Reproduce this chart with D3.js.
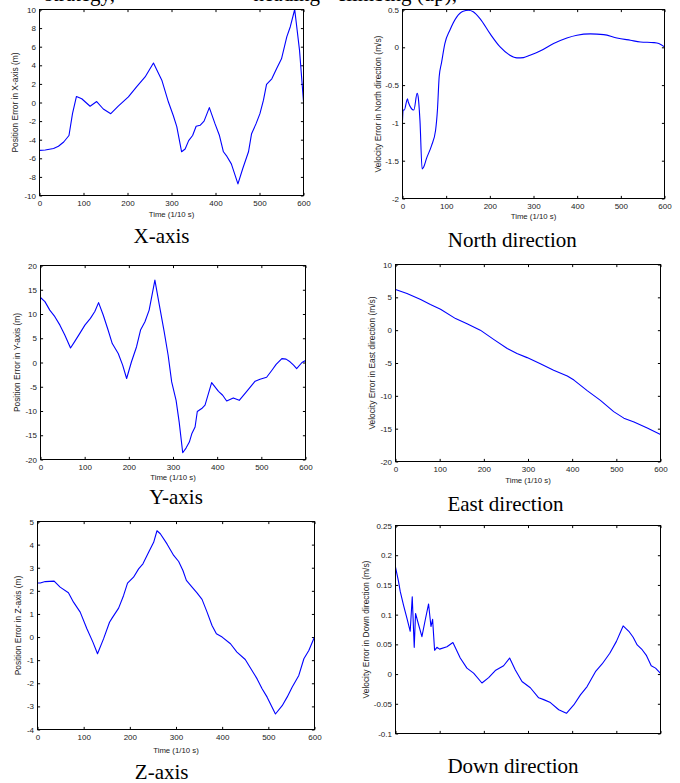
<!DOCTYPE html>
<html><head><meta charset="utf-8">
<script src="https://cdn.jsdelivr.net/npm/d3@7"></script>
<style>body{margin:0;background:#fff}svg{display:block}</style>
</head><body><svg id="c" width="680" height="783"></svg>
<script>
// ---------- data ----------
const timeTicks = [0,100,200,300,400,500,600];

const xTime = [0,13,32,43,55,67,75,84,96,115,130,145,162,179,202,221,240,259,278,293,304,312,323,331,339,348,356,365,374,386,399,409,418,426,436,451,462,475,482,492,501,509,516,528,539,550,562,570,580,591,600];
const xErr  = [-5.15,-5.1,-4.95,-4.7,-4.25,-3.55,-1.2,0.65,0.4,-0.4,0.1,-0.7,-1.2,-0.4,0.6,1.7,2.75,4.25,2.4,0.05,-1.4,-2.6,-5.3,-5.0,-4.1,-3.55,-2.55,-2.45,-2.0,-0.55,-2.3,-3.55,-5.3,-5.8,-6.6,-8.75,-7.1,-5.3,-3.35,-2.3,-1.2,0.25,1.95,2.55,3.65,4.7,7.05,8.15,10.0,5.6,0.1];
const xTicks = [-10,-8,-6,-4,-2,0,2,4,6,8,10];

const nTime = [0,1.5,4,11.5,13,26,33.5,36,40,45,48,55,66.5,75.7,80,84,89.5,97,108.7,124,139,151,162,177.5,200.5,223.5,246,262,277,292,315,346,376.5,399.5,430,460.7,491,522,545,575.5,587,600];
const nErr  = [-0.97,-0.83,-0.83,-0.68,-0.72,-0.83,-0.61,-0.66,-0.97,-1.61,-1.59,-1.47,-1.30,-1.10,-0.83,-0.39,-0.2,0.05,0.23,0.40,0.478,0.49,0.47,0.38,0.18,0.005,-0.105,-0.14,-0.136,-0.105,-0.05,0.05,0.124,0.16,0.177,0.168,0.124,0.093,0.071,0.062,0.05,0.005];
const nTicks = [-2,-1.5,-1,-0.5,0,0.5];

const yTime = [0,10,21,32.5,44,55,68,78,89,100.5,113,123,131.5,142,153,162.5,176,186,195,206,217.5,226.5,236.5,246,259,269,280,289,297,307,314,322,329.5,337,342.5,350,355,365,372.5,387.5,403,412.5,421.5,436.5,450,467,486,497,512,524,533.5,546.5,556,565,573,580,592,600];
const yErr  = [13.4,12.55,10.8,9.45,7.7,5.65,3.0,4.4,6.0,7.7,9.1,10.5,12.35,9.8,6.7,3.9,1.85,-0.55,-3.3,0.15,3.25,6.7,8.4,10.8,17.0,11.9,6.35,1.5,-4.0,-7.8,-12.3,-18.6,-17.65,-16.4,-14.7,-13.3,-10.1,-9.5,-8.8,-4.15,-5.95,-6.75,-7.95,-7.3,-7.8,-5.95,-3.85,-3.45,-3.05,-1.6,-0.4,0.8,0.7,0.15,-0.55,-1.25,0,0.4];
const yTicks = [-20,-15,-10,-5,0,5,10,15,20];

const eTime = [0,26,57,79,102,136,162,192,223,253,275,298,328,358,389,404,434,464,494,517,540,570,600];
const eErr  = [6.2,5.57,4.66,3.9,3.19,1.76,0.99,0,-1.44,-2.8,-3.57,-4.18,-5.1,-6.1,-6.97,-7.6,-9.2,-10.7,-12.4,-13.4,-14.0,-14.9,-15.9];
const eTicks = [-20,-15,-10,-5,0,5,10];

const zTime = [0,6,16.6,36,49,67,78,92.5,107,120,130,143,156,161.5,175.7,186.5,195,208,219,228.4,240.7,251.6,258.8,266,280.5,295,305.8,315,322.5,334.8,345.5,356.4,367.3,378,387.5,400,418,432,450,462.6,475.7,486.5,497.4,515.4,530,540.7,551.5,566,577,587.7,600];
const zErr  = [2.34,2.34,2.4,2.42,2.16,1.92,1.51,1.08,0.36,-0.22,-0.72,-0.08,0.64,0.82,1.25,1.8,2.33,2.59,2.95,3.17,3.67,4.1,4.6,4.47,4.03,3.53,3.27,2.88,2.45,2.16,1.91,1.63,1.08,0.5,0.14,0,-0.29,-0.65,-0.97,-1.38,-1.81,-2.24,-2.6,-3.33,-2.97,-2.6,-2.17,-1.66,-0.94,-0.58,0];
const zTicks = [-4,-3,-2,-1,0,1,2,3,4,5];

const dTime = [0,6.8,10.7,18.1,25.8,33.3,37.9,42.4,45.4,52.3,59.8,67.3,74.9,80.3,84,88.5,93.8,99.8,116.5,130,146.6,161.7,176.8,195.7,210.9,225.9,244.8,258.4,271.3,286.4,305.3,324.2,335.6,350.7,369.6,387,403.6,418.7,433.8,452.7,467.8,485.2,500.2,515.4,528.3,538.1,547.2,558.5,568.4,579,588.8,600];
const dErr  = [0.18,0.156,0.139,0.116,0.094,0.072,0.13,0.045,0.102,0.083,0.063,0.091,0.118,0.08,0.092,0.04,0.045,0.042,0.046,0.053,0.027,0.01,0.0015,-0.015,-0.006,0.006,0.014,0.027,0.007,-0.0125,-0.023,-0.04,-0.043,-0.048,-0.06,-0.066,-0.052,-0.035,-0.021,0.004,0.017,0.035,0.055,0.081,0.072,0.062,0.049,0.041,0.031,0.014,0.01,0.001];
const dTicks = [-0.1,-0.05,0,0.05,0.1,0.15,0.2,0.25];

const xLabelText = "Time (1/10 s)";

// ---------- layout ----------
const panels = [
  {time:xTime, val:xErr, ticks:xTicks, ylab:"Position Error in X-axis (m)", cap:"X-axis",
   f:[39.5,9.5,303.5,195.5], ylx:16, xly:216.5, cx:161.5, cy:242.5, xl:true, curve:d3.curveLinear},
  {time:nTime, val:nErr, ticks:nTicks, ylab:"Velocity Error in North direction (m/s)", cap:"North direction",
   f:[402.5,9.5,664.5,198.5], ylx:378.3, xly:218.5, cx:512.3, cy:247, xl:true, curve:d3.curveMonotoneX},
  {time:yTime, val:yErr, ticks:yTicks, ylab:"Position Error in Y-axis (m)", cap:"Y-axis",
   f:[40.5,265.5,305.5,459.5], ylx:17.3, xly:480, cx:176, cy:504, xl:true, curve:d3.curveLinear},
  {time:eTime, val:eErr, ticks:eTicks, ylab:"Velocity Error in East direction (m/s)", cap:"East direction",
   f:[395.5,264.5,660.5,461.5], ylx:373, xly:482.5, cx:505.5, cy:511, xl:true, curve:d3.curveLinear},
  {time:zTime, val:zErr, ticks:zTicks, ylab:"Position Error in Z-axis (m)", cap:"Z-axis",
   f:[37.5,521.5,314.5,729.5], ylx:18.3, xly:752.5, cx:161.7, cy:779, xl:true, curve:d3.curveLinear},
  {time:dTime, val:dErr, ticks:dTicks, ylab:"Velocity Error in Down direction (m/s)", cap:"Down direction",
   f:[395.5,525.5,660.5,733.5], ylx:366.3, xly:0, cx:513, cy:773, xl:false, curve:d3.curveLinear}
];

const svg = d3.select("#c");
const SANS = "'Liberation Sans', Arial, sans-serif";
const SERIF = "'Liberation Serif', 'Times New Roman', serif";
const fmt = d => String(d);
const TICK = 2.6;

// clipped line of body text above the figure
const topText = svg.append("g").attr("font-family", SERIF).attr("font-size", 21).attr("fill", "#000");
[["strategy,",115],["heading",320],["climbing (up),",457]].forEach(([t,x]) =>
  topText.append("text").attr("x", x).attr("y", 0.5).attr("text-anchor","end").text(t));

panels.forEach((p, i) => {
  const [x0,y0,x1,y1] = p.f;
  const xs = d3.scaleLinear().domain([0,600]).range([x0,x1]);
  const ys = d3.scaleLinear().domain(d3.extent(p.ticks)).range([y1,y0]);
  const g = svg.append("g");

  const styleAxis = sel => {
    sel.select(".domain").remove();
    sel.selectAll(".tick line").attr("stroke","#000").attr("stroke-width",1);
    sel.selectAll(".tick text").attr("fill","#222").attr("font-family",SANS).attr("font-size",8);
  };

  // left
  g.append("g").attr("transform",`translate(${x0},0)`)
    .call(d3.axisLeft(ys).tickValues(p.ticks).tickFormat(fmt).tickSizeInner(-TICK).tickSizeOuter(0).tickPadding(3.5))
    .call(styleAxis);
  // right
  g.append("g").attr("transform",`translate(${x1},0)`)
    .call(d3.axisRight(ys).tickValues(p.ticks).tickFormat("").tickSizeInner(-TICK).tickSizeOuter(0))
    .call(styleAxis);
  // bottom
  const bottom = g.append("g").attr("transform",`translate(0,${y1})`)
    .call(d3.axisBottom(xs).tickValues(timeTicks).tickFormat(p.xl ? fmt : "").tickSizeInner(-TICK).tickSizeOuter(0).tickPadding(4))
    .call(styleAxis);
  bottom.selectAll(".tick text").attr("dy", null).attr("y", 10.5);
  // top
  g.append("g").attr("transform",`translate(0,${y0})`)
    .call(d3.axisTop(xs).tickValues(timeTicks).tickFormat("").tickSizeInner(-TICK).tickSizeOuter(0))
    .call(styleAxis);

  // data line
  const line = d3.line().x(d => xs(d[0])).y(d => ys(d[1])).curve(p.curve);
  g.append("path").datum(d3.zip(p.time, p.val))
    .attr("d", line).attr("fill","none").attr("stroke","#0000ff").attr("stroke-width",1.1)
    .attr("stroke-linejoin","round");

  // frame
  g.append("rect").attr("x",x0).attr("y",y0).attr("width",x1-x0).attr("height",y1-y0)
    .attr("fill","none").attr("stroke","#000").attr("stroke-width",1);

  // y label
  g.append("text").attr("transform",`translate(${p.ylx+2.4},${(y0+y1)/2}) rotate(-90)`)
    .attr("text-anchor","middle").attr("font-family",SANS).attr("font-size",8.4).attr("fill","#222")
    .text(p.ylab);

  // x label
  if (p.xl) {
    g.append("text").attr("x",(x0+x1)/2).attr("y",p.xly).attr("text-anchor","middle")
      .attr("font-family",SANS).attr("font-size",7.8).attr("fill","#222").text(xLabelText);
  }

  // caption
  g.append("text").attr("x",p.cx).attr("y",p.cy).attr("text-anchor","middle")
    .attr("font-family",SERIF).attr("font-size",21).attr("fill","#000").text(p.cap);
});
</script>
</body></html>
